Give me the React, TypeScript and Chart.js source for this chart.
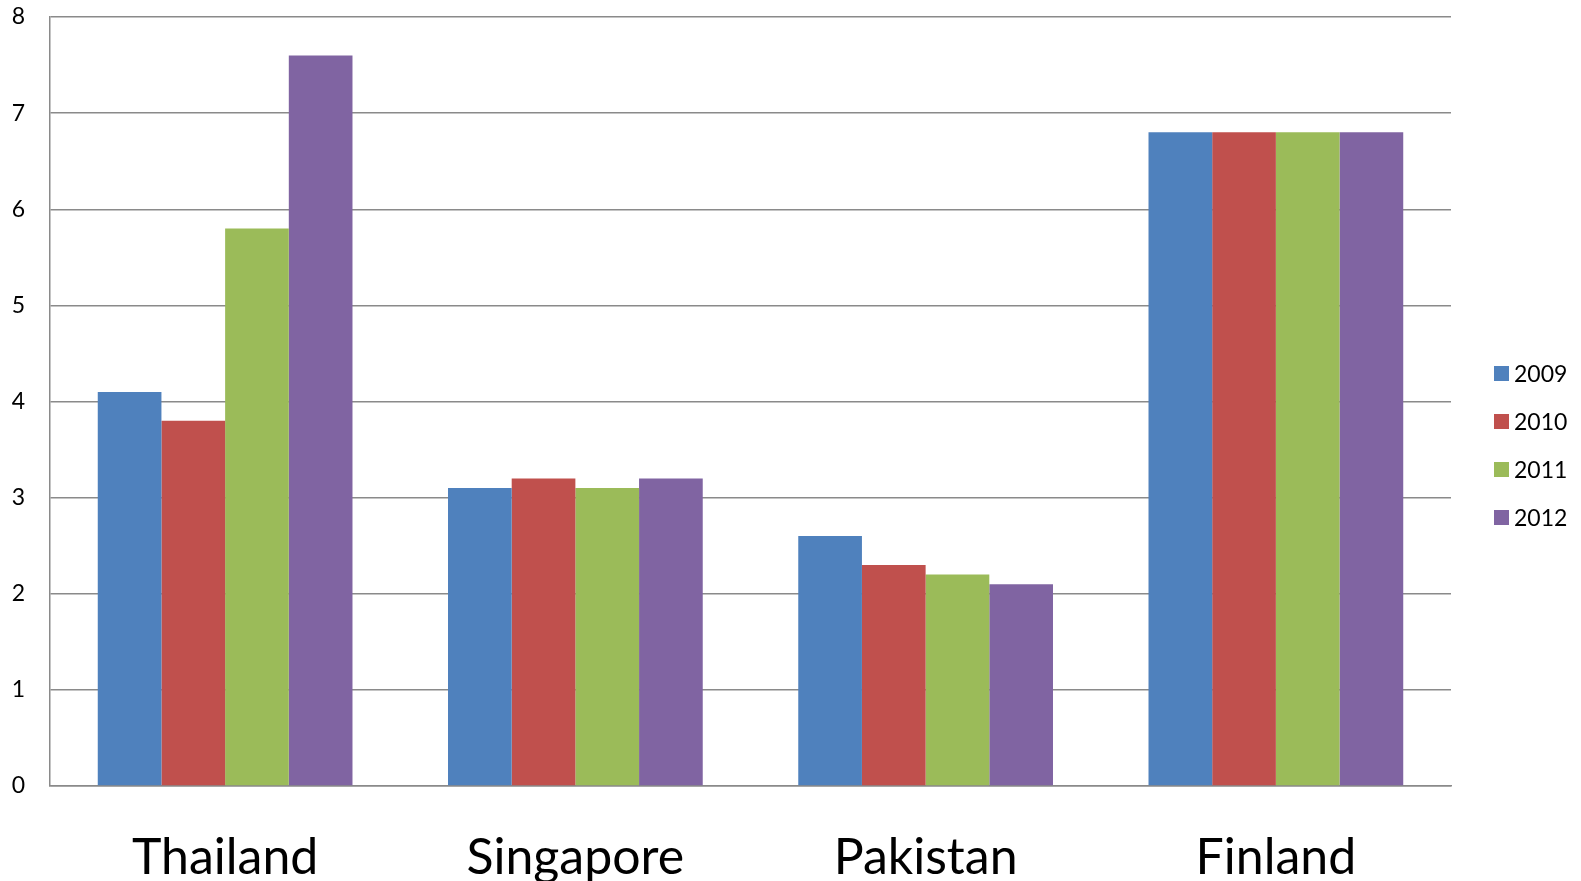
import React, { useEffect, useRef } from "react";
import { Chart, registerables } from "chart.js";

Chart.register(...registerables);

const countries = ["Thailand", "Singapore", "Pakistan", "Finland"];
const years = ["2009", "2010", "2011", "2012"];
const values2009 = [4.1, 3.1, 2.6, 6.8];
const values2010 = [3.8, 3.2, 2.3, 6.8];
const values2011 = [5.8, 3.1, 2.2, 6.8];
const values2012 = [7.6, 3.2, 2.1, 6.8];
const seriesColors = ["#4F81BD", "#C0504D", "#9BBB59", "#8064A2"];
const yTicks = [0, 1, 2, 3, 4, 5, 6, 7, 8];

const FONT = "Lato, 'Open Sans', sans-serif";

// Vertical legend to the right of the plot: square swatch + year label
const sideLegend = {
  id: "sideLegend",
  afterDraw(chart: any) {
    const { ctx, chartArea } = chart;
    const ds = chart.data.datasets;
    const rowGap = 48;
    const box = 15;
    const x0 = chartArea.right + 43;
    const midY = chart.height / 2 + 5;
    const startY = midY - ((ds.length - 1) * rowGap) / 2;
    ctx.save();
    ctx.font = `23px ${FONT}`;
    ctx.textBaseline = "middle";
    ctx.textAlign = "left";
    ds.forEach((d: any, i: number) => {
      const cy = startY + i * rowGap;
      ctx.fillStyle = d.backgroundColor;
      ctx.fillRect(x0, cy - box / 2, box, box);
      ctx.fillStyle = "#000";
      ctx.fillText(d.label, x0 + box + 5, cy + 1);
    });
    ctx.restore();
  },
};

export default function App() {
  const ref = useRef<HTMLCanvasElement>(null);

  useEffect(() => {
    if (!ref.current) return;
    const series = [values2009, values2010, values2011, values2012];
    const chart = new Chart(ref.current, {
      type: "bar",
      data: {
        labels: countries,
        datasets: years.map((y, i) => ({
          label: y,
          data: series[i],
          backgroundColor: seriesColors[i],
          borderWidth: 0,
          categoryPercentage: 4 / 5.5,
          barPercentage: 1,
        })),
      },
      options: {
        responsive: false,
        animation: false,
        layout: { padding: { top: 17, right: 130, left: 0, bottom: 0 } },
        plugins: {
          legend: { display: false },
          tooltip: { enabled: false },
        },
        scales: {
          x: {
            grid: { display: false, drawTicks: false },
            border: { display: true, color: "#8a8a8a", width: 1.5 },
            ticks: {
              font: { family: FONT, size: 50, lineHeight: 1.2 },
              color: "#000",
              padding: 42,
              maxRotation: 0,
            },
            afterFit: (scale: any) => {
              scale.height = 95;
              scale.paddingTop = 0;
              scale.paddingBottom = 0;
            },
          },
          y: {
            min: 0,
            max: 8,
            afterBuildTicks: (scale: any) => {
              scale.ticks = yTicks.map((v) => ({ value: v }));
            },
            grid: { color: "#8a8a8a", lineWidth: 1.5, drawTicks: false },
            border: { display: true, color: "#8a8a8a", width: 1.5 },
            ticks: {
              font: { family: FONT, size: 23 },
              color: "#000",
              padding: 25,
            },
            afterFit: (scale: any) => {
              scale.width = 50;
              scale.paddingTop = 0;
              scale.paddingBottom = 0;
            },
          },
        },
      },
      plugins: [sideLegend],
    });
    return () => chart.destroy();
  }, []);

  return (
    <div style={{ position: "absolute", left: 0, top: 0, width: 1581, height: 881, background: "#fff" }}>
      <canvas ref={ref} width={1581} height={881} style={{ display: "block" }} />
    </div>
  );
}
